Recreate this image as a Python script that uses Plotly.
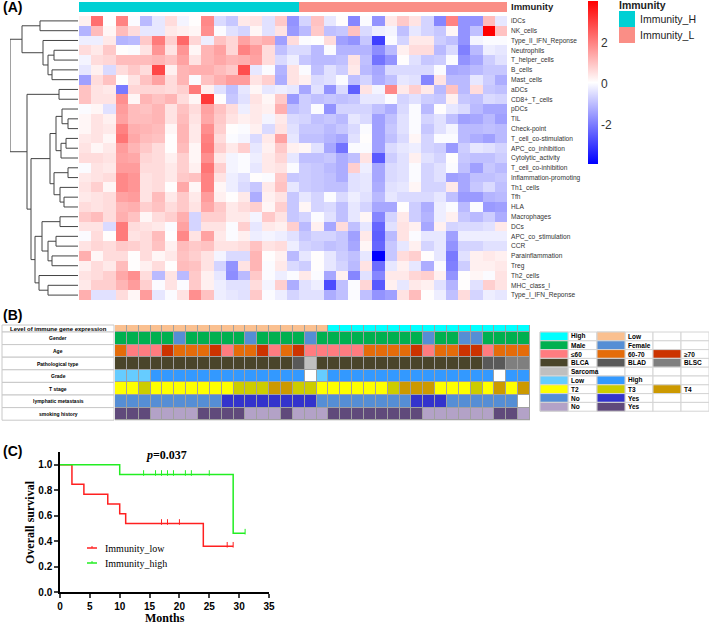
import plotly.graph_objects as go

W, H = 709, 625
SANS = "Liberation Sans, Arial, sans-serif"
SERIF = "Liberation Serif, Times New Roman, serif"

# ---------------- panel A data ----------------
signatures = ["iDCs", "NK_cells", "Type_II_IFN_Reponse", "Neutrophils", "T_helper_cells",
              "B_cells", "Mast_cells", "aDCs", "CD8+_T_cells", "pDCs", "TIL", "Check-point",
              "T_cell_co-stimulation", "APC_co_inhibition", "Cytolytic_activity",
              "T_cell_co-inhibition", "Inflammation-promoting", "Th1_cells", "Tfh", "HLA",
              "Macrophages", "DCs", "APC_co_stimulation", "CCR", "Parainflammation", "Treg",
              "Th2_cells", "MHC_class_I", "Type_I_IFN_Reponse"]
immunity_groups = ["Immunity_H"] * 18 + ["Immunity_L"] * 17
group_colors = {"Immunity_H": "#00D0D4", "Immunity_L": "#FA8E86"}

scores = [
    [0.3, 2.3, 0.05, 2.0, 0.0, -1.0, -0.3, 0.6, -0.1, 0.1, 1.9, -0.5, -0.8, 0.4, 0.5, -0.4, 0.9, -1.6, -0.6, 1.0, -0.3, 0.1, -1.8, 0.0, -1.6, 0.4, 0.9, 0.5, -0.6, -1.8, 2.0, -1.6, -1.6, 1.1, -0.3],
    [-1.1, 1.1, 0.2, 1.1, 0.6, -0.3, -0.3, 0.4, 0.3, 0.2, 1.8, 0.0, -0.4, -0.6, 0.2, -0.4, 0.5, -1.5, -1.0, 0.9, -0.9, -0.8, 1.0, -0.5, -0.2, -0.1, -0.9, -0.3, -0.6, -0.8, 0.2, -1.6, -0.9, 4.0, 1.0],
    [-0.2, -0.2, 0.4, -1.1, -1.0, 0.9, 2.1, 0.8, 2.4, 0.7, -0.2, 1.0, 0.7, 1.5, 1.1, 1.3, -1.4, 0.6, 0.0, 0.05, 0.6, -1.4, -1.6, -0.8, -2.9, 0.0, -0.6, 0.4, 0.4, -0.7, -0.9, -1.6, -0.1, 0.0, 0.0],
    [0.6, 0.4, 0.9, 0.1, 0.0, 0.5, 1.7, 0.5, 1.7, 0.2, 1.2, 1.5, 0.7, 2.0, 1.6, 0.6, -0.9, -0.5, -0.5, -1.0, 0.0, -1.1, -1.1, -1.1, -1.7, -1.0, 0.3, 0.6, 0.6, -1.0, -0.5, -1.9, -1.0, -0.2, -0.3],
    [-0.1, 0.6, 0.7, 1.1, 1.1, 1.1, 1.2, 1.0, 1.5, 0.5, 1.2, 1.4, 1.2, 1.3, 1.5, 0.6, -0.5, -0.2, -0.8, -1.0, -1.0, -0.9, 0.5, -0.9, -2.1, -1.6, 0.1, -0.4, -0.8, -0.7, 0.0, -1.6, -1.3, -0.7, -0.4],
    [-0.3, 0.3, -0.5, 0.6, 0.9, 0.6, 2.9, 0.3, 1.2, 1.3, 1.3, 1.1, 0.9, 2.8, -0.3, 0.0, -1.1, 0.5, 0.0, -0.9, -0.4, -0.7, 0.4, -1.0, -1.3, -0.5, -0.5, -0.5, -0.5, 0.0, -1.3, -1.2, -1.0, -0.8, -0.8],
    [-1.4, 0.6, 1.0, 0.1, 0.5, 1.0, 1.5, 0.6, 1.2, 0.0, 1.0, 1.3, 1.6, 1.6, 0.5, 0.8, -1.2, 0.5, 0.3, -0.5, -0.4, 0.0, -0.9, -0.6, -1.2, -0.9, -0.3, -0.4, -1.8, 0.5, -1.0, -1.0, -0.3, -0.7, -1.2],
    [1.0, 0.5, 0.4, -2.0, 0.7, 0.7, 0.7, 0.6, 0.8, 2.1, 0.3, -0.4, -0.9, -0.3, 0.2, -0.3, -0.2, -0.3, -1.3, -0.4, -1.6, -0.5, -2.4, 0.5, -0.1, 1.9, 0.4, 0.8, 0.4, -1.0, 1.0, -1.0, 0.6, -0.8, -0.9],
    [1.0, 0.5, 0.5, 1.8, 0.2, 1.2, 1.0, 1.2, 0.6, 0.2, 3.1, 0.1, -0.8, -0.4, 0.5, 0.2, 0.9, -1.5, -0.7, -0.9, -0.8, -0.9, -0.8, -0.3, -0.3, 0.0, -0.6, -0.4, -0.7, -0.8, 0.3, -0.8, -0.9, -0.5, -0.6],
    [0.0, 0.2, -0.4, 1.6, 1.1, 1.0, 1.2, 0.5, 1.0, 0.6, 1.5, 1.0, 0.6, -0.2, 0.4, 0.3, 1.3, -0.9, -0.7, 0.0, -1.6, -0.6, -0.6, -0.6, -0.9, -1.2, -0.5, 0.0, -1.0, 0.1, -0.3, -0.5, -1.0, -1.3, -1.3],
    [0.2, 0.5, 0.3, 1.5, 1.1, 1.1, 1.2, 0.5, 1.1, 0.5, 1.4, 0.9, 0.5, 0.3, 0.4, -0.1, 0.4, -0.5, -0.6, -0.9, -0.8, -1.0, -0.3, -0.5, -1.4, -0.9, -0.4, 0.0, -0.6, -0.4, -0.9, -1.4, -1.3, -1.0, -1.4],
    [0.2, 0.5, 0.4, 2.0, 1.3, 1.2, 1.1, 0.2, 1.2, 0.4, 1.8, 0.8, 0.1, 0.0, 0.3, -0.5, 0.5, -0.4, -0.8, -0.8, -1.0, -0.8, -0.5, 0.0, -1.4, -0.8, -0.4, 0.0, -0.8, -0.4, -0.1, -1.0, -1.0, -0.9, -1.0],
    [0.4, 0.5, 0.2, 2.2, 1.4, 1.1, 1.0, 0.1, 1.2, 0.4, 2.0, 0.6, 0.0, -0.1, -0.5, 0.4, 1.5, -0.3, -0.9, -0.9, -1.1, -1.3, -0.4, 0.1, -1.4, -0.9, -0.5, 0.2, -0.6, 0.0, 0.0, -1.0, -1.2, -1.4, -1.0],
    [0.5, 0.2, 0.4, 1.6, 1.2, 0.9, 0.6, 0.1, 1.1, 0.2, 2.1, 0.8, 0.4, 0.8, -0.3, 0.3, 0.9, 0.3, 0.2, -0.4, -1.3, -2.1, 0.0, 0.0, -1.4, -0.5, -0.3, -0.2, -0.6, -0.7, -1.5, -0.7, -0.3, -0.4, -0.6],
    [0.6, 0.6, 0.5, 1.5, 1.4, 0.7, 0.6, 0.3, 0.8, 0.2, 1.8, 0.4, -0.1, 0.0, -0.2, 0.4, 0.7, -0.3, -0.9, -0.9, -0.8, -1.2, -0.9, 0.5, -2.5, -0.7, -0.4, 0.3, -0.4, -0.6, 0.1, -0.8, -0.9, -0.9, -0.7],
    [0.0, 0.5, 0.4, 1.6, 1.6, 0.6, 0.6, 0.4, 0.8, 0.3, 2.2, 0.8, -0.1, 0.0, -0.3, 0.4, 0.5, 0.0, -0.7, -0.8, -1.0, -1.2, 0.8, -0.2, -1.3, -0.5, -0.4, 0.0, -0.6, -0.4, 0.0, -0.9, -1.4, -0.8, -1.0],
    [0.4, 0.5, 0.6, 1.9, 1.7, 0.5, 0.6, 0.4, 0.9, 1.0, 2.0, 0.5, -0.2, -0.4, 0.1, 0.0, 0.9, -0.8, -0.7, -0.8, -0.9, -1.2, -0.4, -0.3, -1.3, -0.5, -0.4, 0.0, -0.6, -0.4, -1.4, -1.3, -0.9, -0.9, -0.8],
    [0.5, 0.8, 0.2, 1.9, 1.7, 0.5, 0.6, 0.1, 1.4, 0.2, 2.0, 0.2, -0.2, -0.5, -0.8, 0.4, 1.0, -0.3, -0.7, -0.8, -0.9, -0.9, -0.4, -0.3, -1.2, -0.4, -0.3, 0.2, -0.6, -0.6, 0.4, -1.3, -0.8, -0.5, -0.9],
    [0.4, 0.5, 0.6, 1.5, 1.6, 0.5, 1.1, 0.4, 0.9, 0.4, 1.6, 0.3, 0.1, 0.4, -1.2, 0.3, 0.5, -0.8, -0.3, -0.6, 0.0, -0.5, -0.2, -0.4, -1.0, -0.3, -0.5, -0.5, -0.5, -0.3, -0.9, -1.5, -1.5, -1.1, -1.0],
    [0.6, 0.5, 0.6, 1.2, 1.3, 0.8, 1.0, 0.6, 0.9, 0.5, 1.4, 0.9, 0.4, 0.6, 0.8, 0.2, 0.8, -0.8, 0.2, -0.6, -0.5, -0.9, -0.3, -0.6, -1.3, -1.3, 0.1, -0.7, -1.2, -0.2, 0.0, -1.0, 0.0, -1.5, -1.4],
    [0.9, 1.1, 0.6, 1.3, 1.0, 0.2, 0.6, 0.8, 1.3, -0.6, 0.8, 0.8, 0.4, 0.4, -0.1, 0.9, 0.5, -0.8, -0.6, 0.0, -0.4, -0.9, -0.3, 0.2, -1.8, -0.6, 0.4, -0.7, -1.1, -0.2, 0.3, -0.8, -1.0, -0.7, -1.2],
    [0.5, 0.5, -0.5, 2.1, 0.6, 0.5, 0.4, 0.0, 1.5, -0.6, 0.5, 0.5, 0.0, 0.8, -0.3, 0.4, 0.3, 0.8, -1.0, 0.3, -1.3, 0.6, -0.9, -0.3, -2.3, -0.4, 0.5, 0.3, -1.3, 0.3, -0.6, -0.5, -0.5, -0.4, 0.4],
    [0.0, 0.6, 0.1, 2.1, 0.5, 0.6, 1.1, 0.05, 1.9, 0.5, 1.5, 0.4, 0.0, 0.3, -0.2, -0.1, -0.2, -0.4, -0.8, -0.6, -0.6, -0.8, -1.4, 0.4, -2.4, -1.0, 0.5, 0.0, -0.3, -0.3, -1.4, -0.2, -0.2, -0.2, -0.2],
    [0.5, 0.7, 0.6, 0.9, 0.8, 0.6, 1.0, 0.3, 1.1, 0.9, 1.0, 0.5, 0.5, 0.6, 1.0, 0.5, 0.6, -0.2, -0.6, -0.7, -0.9, -0.8, -1.3, 0.2, -2.3, -0.8, -0.3, 0.3, -0.6, -0.3, -1.6, -0.6, -0.6, -0.4, -0.4],
    [1.3, 0.2, 0.6, 0.6, 0.1, 0.6, 0.2, 0.4, 1.0, 0.8, 0.5, -0.1, -0.5, -0.5, 1.2, 0.1, 0.3, -1.0, -0.3, 0.1, -0.3, -0.7, -0.9, -0.3, -3.87, -0.8, 0.6, 0.8, 0.1, -0.3, -2.0, -0.4, 0.3, 0.4, 0.3],
    [0.3, 0.6, 0.4, 1.1, 0.1, 0.3, 0.6, 0.1, 1.1, 1.0, 0.5, -0.6, -1.6, 0.5, 1.2, 0.0, 0.4, -0.5, -0.7, 0.1, -0.3, -0.6, -1.0, 0.5, -2.2, -0.3, 0.3, -0.3, -1.2, 0.0, -1.9, -0.7, 0.3, 0.3, 0.4],
    [0.5, 0.6, 0.8, 1.4, 1.8, 0.6, -1.0, 0.5, -1.0, 0.9, 0.3, -0.3, -1.7, -1.0, 0.9, 0.0, -0.2, 0.0, 0.4, 0.0, -1.3, 0.3, -1.8, -0.4, -1.8, 0.4, 0.4, 0.7, 0.8, 0.3, -1.6, 0.1, 0.2, 0.0, 0.5],
    [0.4, 0.8, 0.8, 1.2, 1.6, 0.8, 0.0, 0.5, 0.0, 0.9, 0.3, -0.2, -0.4, -0.4, 0.6, -0.1, 0.8, -1.2, -0.4, -0.2, -2.7, -0.9, 0.0, 0.7, -2.5, 0.3, -0.3, 0.4, 0.3, -0.4, -1.1, 0.1, -0.4, 0.8, 0.5],
    [1.3, -0.4, -0.4, 0.6, 0.2, 1.6, -0.3, 0.0, 0.5, 1.8, 1.0, -0.2, -0.3, -0.4, 0.9, 0.0, -0.2, -0.6, -0.4, -0.4, -1.2, -0.9, 0.0, -0.9, -1.6, -1.4, 0.5, 1.1, 0.1, -0.2, -0.9, 0.6, -0.6, -0.2, -0.3],
]

# row clustering tree: (left, right, merge height); leaves are row indices
row_tree = (
    ((0, 1, 38), (2, ((3, 4, 24), (5, 6, 26), 30), 35), 56),
    ((7, 8, 19),
     ((((9, (10, 11, 10), 16), ((12, 13, 12), 14, 17), 22),
       ((15, 16, 10), (17, (18, 19, 14), 18), 24), 28),
      ((((20, 21, 18), ((22, 23, 22), (24, 25, 26), 30), 36),
        (26, (27, 28, 30), 39), 43)), 47),
     51),
    68,
)

# ---------------- panel B data ----------------
clin_rows = ["Level of immune gene expression", "Gender", "Age", "Pathological type",
             "Grade", "T stage", "lymphatic metastasis", "smoking history"]
level = ["Low"] * 18 + ["High"] * 17
gender = ["M", "M", "M", "M", "M", "F", "M", "M", "M", "M", "M", "F", "M", "M", "M", "M", "F", "M",
          "M", "M", "M", "M", "M", "M", "M", "M", "F", "M", "M", "F", "F", "M", "M", "M", "M"]
age = ["60-70", "<=60", "<=60", "<=60", ">=70", "60-70", "60-70", "60-70", ">=70", "<=60", "60-70",
       "60-70", ">=70", "<=60", "60-70", ">=70", "<=60", "<=60", "<=60", "<=60", "<=60", "60-70",
       "60-70", "60-70", "60-70", ">=70", "<=60", "60-70", "60-70", ">=70", ">=70", "<=60", "60-70",
       "60-70", "60-70"]
path_type = ["BLCA"] * 15 + ["BLAD", "Sarcoma"] + ["BLCA"] * 14 + ["BLAD", "BLAD", "BLSC", "BLSC"]
grade = ["Low", "Low", "Low"] + ["High"] * 13 + ["NA", "Low"] + ["High"] * 14 + ["NA", "High", "High"]
t_stage = ["T2", "T2", "T3", "T2", "T2", "T2", "T2", "T2", "T2", "T2", "T3", "T3", "T3", "T4", "T4",
           "T3", "T3", "T2", "T2", "T2", "T2", "T2", "T2", "T3", "T4", "T4", "T4", "T2", "T2", "T2",
           "T3", "T2", "T4", "T2", "T4"]
lymph = ["No"] * 9 + ["Yes"] * 8 + ["No"] * 8 + ["Yes"] * 3 + ["No"] * 6 + ["NA"]
smoking = ["Yes", "Yes", "Yes", "No", "No", "No", "No", "Yes", "Yes", "Yes", "Yes", "No", "No", "No",
           "Yes", "No", "No", "No", "Yes", "Yes", "Yes", "Yes", "Yes", "Yes", "Yes", "Yes", "No", "No",
           "No", "No", "No", "No", "Yes", "Yes", "No"]

clin_colors = [
    {"High": "#00FFFF", "Low": "#FAC090"},
    {"M": "#00B050", "F": "#558ED5"},
    {"<=60": "#FF7C80", "60-70": "#E46C0A", ">=70": "#CC3300"},
    {"BLCA": "#4A452A", "BLAD": "#595959", "BLSC": "#7F7F7F", "Sarcoma": "#BFBFBF"},
    {"Low": "#66CCFF", "High": "#3399FF", "NA": "#FFFFFF"},
    {"T2": "#FFFF00", "T3": "#CCCC00", "T4": "#CC9900"},
    {"No": "#558ED5", "Yes": "#3333CC", "NA": "#FFFFFF"},
    {"No": "#B3A2C7", "Yes": "#604A7B"},
]
legend_rows = [
    [("High", "#00FFFF"), ("Low", "#FAC090")],
    [("Male", "#00B050"), ("Female", "#558ED5")],
    [("≤60", "#FF7C80"), ("60-70", "#E46C0A"), ("≥70", "#CC3300")],
    [("BLCA", "#4A452A"), ("BLAD", "#595959"), ("BLSC", "#7F7F7F")],
    [("Sarcoma", "#BFBFBF")],
    [("Low", "#66CCFF"), ("High", "#3399FF")],
    [("T2", "#FFFF00"), ("T3", "#CCCC00"), ("T4", "#CC9900")],
    [("No", "#558ED5"), ("Yes", "#3333CC")],
    [("No", "#B3A2C7"), ("Yes", "#604A7B")],
]

# ---------------- panel C data ----------------
low_times = [0, 2, 4, 8, 10, 11, 24, 29]
low_surv = [1.0, 0.846, 0.769, 0.692, 0.615, 0.538, 0.359, 0.359]
low_censor = [17, 18, 20, 28, 29]
high_times = [0, 10, 29, 31]
high_surv = [1.0, 0.923, 0.462, 0.462]
high_censor = [14, 16, 17, 18, 19, 21, 22, 25, 31]
p_value = "0.037"


def px(x):
    return x / W


def py(y):
    return 1 - y / H


fig = go.Figure()
annos = []
shapes = []


def note(text, x, y, size, xanchor="left", yanchor="middle", family=SANS, color="black", angle=0):
    annos.append(dict(text=text, x=px(x), y=py(y), xref="paper", yref="paper", showarrow=False,
                      xanchor=xanchor, yanchor=yanchor, textangle=angle,
                      font=dict(family=family, size=size, color=color)))


def rect(x0, y0, x1, y1, fill, line="rgba(0,0,0,0)", width=0, layer="above"):
    shapes.append(dict(type="rect", xref="paper", yref="paper", x0=px(x0), x1=px(x1),
                       y0=py(y1), y1=py(y0), fillcolor=fill, line=dict(color=line, width=width),
                       layer=layer))


# ---- A: heatmap ----
fig.add_trace(go.Heatmap(
    z=scores, x=list(range(35)), y=list(range(len(signatures))),
    colorscale=[[0, "#0000FF"], [0.5, "#FFFFFF"], [1, "#FF0000"]], zmin=-3.87, zmax=4.0,
    xaxis="x", yaxis="y", hoverinfo="skip",
    colorbar=dict(x=px(588), xanchor="left", y=py(1), yanchor="top", len=163, lenmode="pixels",
                  thickness=10, thicknessmode="pixels", outlinewidth=0, xpad=0, ypad=0,
                  tickvals=[-2, 0, 2], ticktext=["-2", "0", "2"], ticks="",
                  tickfont=dict(family=SANS, size=12, color="#333333")),
))

groups = list(group_colors)
fig.add_trace(go.Heatmap(
    z=[[groups.index(g) for g in immunity_groups]], x=list(range(35)), y=[0],
    colorscale=[[0, group_colors[groups[0]]], [0.5, group_colors[groups[0]]],
                [0.5, group_colors[groups[1]]], [1, group_colors[groups[1]]]],
    zmin=0, zmax=1, showscale=False, xaxis="x", yaxis="y2", hoverinfo="skip",
))

# dendrogram
dx, dy = [], []


def walk(node):
    if isinstance(node, int):
        return float(node), 0.0
    left, right, h = node
    yl, hl = walk(left)
    yr, hr = walk(right)
    dx.extend([hl, h, h, hr, None])
    dy.extend([yl, yl, yr, yr, None])
    return (yl + yr) / 2, h


walk(row_tree)
fig.add_trace(go.Scatter(x=dx, y=dy, mode="lines", line=dict(color="#444444", width=1),
                         xaxis="x3", yaxis="y", hoverinfo="skip", showlegend=False))

# ---- B: clinical annotation table ----
clin_data = [level, gender, age, path_type, grade, t_stage, lymph, smoking]
palette = []
for cmap in clin_colors:
    for c in cmap.values():
        if c not in palette:
            palette.append(c)
clin_z = [[palette.index(clin_colors[i][v]) for v in row] for i, row in enumerate(clin_data)]
n = len(palette)
pal_scale = []
for i, c in enumerate(palette):
    pal_scale += [[i / n, c], [(i + 1) / n, c]]

row_h = [7] + [12.6] * 7
edges = [0]
for h in row_h:
    edges.append(edges[-1] + h)
TB_TOP = 325
rect(115, TB_TOP, 530, TB_TOP + edges[-1], "#A0A0A0", layer="below")
fig.add_trace(go.Heatmap(
    z=clin_z, x=list(range(35)), y=edges, colorscale=pal_scale, zmin=-0.5, zmax=n - 0.5,
    showscale=False, xgap=1, ygap=1, xaxis="x4", yaxis="y4", hoverinfo="skip",
))
for i, lab in enumerate(clin_rows):
    rect(2, TB_TOP + edges[i], 114, TB_TOP + edges[i + 1], "white", "#C8C8C8", 1)
    size = 6 if i == 0 else 5
    note("<b>%s</b>" % lab, 58, TB_TOP + (edges[i] + edges[i + 1]) / 2, size, "center")

# legend table for panel B
lg_cols = [540, 568, 597, 625, 653, 681, 709]
lg_top, lg_h = 332, 8.8
for r, items in enumerate(legend_rows):
    y0, y1 = lg_top + r * lg_h, lg_top + (r + 1) * lg_h
    for c in range(6):
        rect(lg_cols[c], y0, lg_cols[c + 1], y1, "white", "#D4D4D4", 1)
    for k, (lab, col) in enumerate(items):
        rect(lg_cols[2 * k], y0, lg_cols[2 * k + 1], y1, col, "#D4D4D4", 1)
        note("<b>%s</b>" % lab, lg_cols[2 * k + 1] + 1, (y0 + y1) / 2, 6.5)


# ---- C: Kaplan-Meier ----
def surv_at(times, surv, t):
    s = surv[0]
    for ti, si in zip(times, surv):
        if ti <= t:
            s = si
    return s


for times, surv, cens, col, name in [(low_times, low_surv, low_censor, "#FF2020", "Immunity_low"),
                                     (high_times, high_surv, high_censor, "#22EE22", "Immunity_high")]:
    fig.add_trace(go.Scatter(x=times, y=surv, mode="lines", line=dict(color=col, width=1.5, shape="hv"),
                             xaxis="x5", yaxis="y5", name=name, showlegend=False, hoverinfo="skip"))
    fig.add_trace(go.Scatter(x=cens, y=[surv_at(times, surv, t) + 0.012 for t in cens], mode="markers",
                             marker=dict(symbol="line-ns", size=4, line=dict(color=col, width=1)),
                             xaxis="x5", yaxis="y5", showlegend=False, hoverinfo="skip"))

# manual KM legend
for yv, col, name in [(548, "#FF2020", "Immunity_low"), (563, "#22EE22", "Immunity_high")]:
    shapes.append(dict(type="line", xref="paper", yref="paper", x0=px(87), x1=px(97), y0=py(yv), y1=py(yv),
                       line=dict(color=col, width=1.5)))
    shapes.append(dict(type="line", xref="paper", yref="paper", x0=px(92), x1=px(92), y0=py(yv - 2), y1=py(yv),
                       line=dict(color=col, width=1)))
    note(name, 103, yv, 10, family=SERIF)

note("<b><i>p</i>=%s</b>" % p_value, 166, 455, 12, "center", family=SERIF)
note("<b>Months</b>", 165, 618, 12, "center", family=SERIF)
note("<b>Overall survival</b>", 30, 522, 12, "center", family=SERIF, angle=-90)

# ---- text and legends of panel A ----
note("<b>(A)</b>", 1, 7, 14)
note("<b>(B)</b>", 1, 315, 14)
note("<b>(C)</b>", 1, 451, 14)
note("<b>Immunity</b>", 509, 7, 9.5, color="#222222")
note("<b>Immunity</b>", 617, 5, 10.5, color="#222222")
for k, g in enumerate(groups):
    rect(619, 11 + 16 * k, 635, 27 + 16 * k, group_colors[g])
    note(g, 638, 19 + 16 * k, 10.5, color="#222222")

tick_font = dict(family=SANS, size=10, color="black", weight="bold")
fig.update_layout(
    width=W, height=H, margin=dict(l=0, r=0, t=0, b=0, autoexpand=False),
    paper_bgcolor="white", plot_bgcolor="white", showlegend=False,
    xaxis=dict(domain=[px(79), px(507)], range=[-0.5, 34.5], visible=False, anchor="y"),
    yaxis=dict(domain=[py(300), py(16)], range=[28.5, -0.5], side="right", anchor="x",
               tickvals=list(range(len(signatures))), ticktext=signatures, ticks="",
               ticklabelstandoff=3, showgrid=False, zeroline=False, showline=False,
               tickfont=dict(family=SANS, size=6.6, color="#333333")),
    yaxis2=dict(domain=[py(12), py(2)], range=[-0.5, 0.5], visible=False, anchor="x"),
    xaxis3=dict(domain=[px(10), px(78)], range=[68, 0], visible=False, anchor="y"),
    xaxis4=dict(domain=[px(115), px(530)], range=[-0.5, 34.5], visible=False, anchor="y4"),
    yaxis4=dict(domain=[py(TB_TOP + edges[-1]), py(TB_TOP)], range=[edges[-1], 0], visible=False, anchor="x4"),
    xaxis5=dict(domain=[px(60), px(269)], range=[0, 35], anchor="y5", tickvals=list(range(0, 36, 5)),
                ticks="outside", ticklen=4, tickwidth=1.5, showline=True, linewidth=1.5, linecolor="black",
                showgrid=False, zeroline=False, tickfont=tick_font),
    yaxis5=dict(domain=[py(592), py(452)], range=[0, 1.1], anchor="x5",
                tickvals=[0, 0.2, 0.4, 0.6, 0.8, 1.0], tickformat=".1f",
                ticks="outside", ticklen=4, tickwidth=1.5, showline=True, linewidth=1.5, linecolor="black",
                showgrid=False, zeroline=False, tickfont=tick_font),
    annotations=annos, shapes=shapes,
)

fig.write_html("out.html", config={"displayModeBar": False},
               post_script="document.body.style.margin='0px';")
